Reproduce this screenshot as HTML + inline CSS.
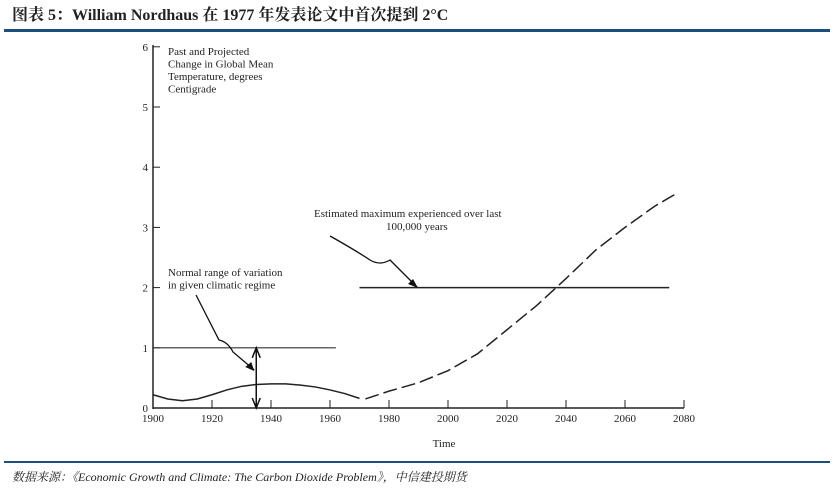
<!DOCTYPE html>
<html><head><meta charset="utf-8"><style>
body{margin:0;background:#fff;width:834px;height:492px;overflow:hidden;font-family:"Liberation Serif","Noto Serif CJK SC",serif}
</style></head><body>
<svg width="834" height="492" xmlns="http://www.w3.org/2000/svg">
<text x="12" y="20" font-size="16" font-weight="bold" fill="#222" font-family="Liberation Serif, Noto Serif CJK SC, serif">图表 5：William Nordhaus 在 1977 年发表论文中首次提到 2°C</text>
<rect x="4" y="29" width="826" height="3" fill="#1d4f7c"/>
<g id="chart" font-family="Liberation Serif, serif" fill="#222"></g>
<rect x="4" y="461" width="826" height="2" fill="#1d4f7c"/>
<text x="12" y="481" font-size="12" font-style="italic" fill="#222" font-family="Liberation Serif, Noto Serif CJK SC, serif">数据来源：《Economic Growth and Climate: The Carbon Dioxide Problem》，中信建投期货</text>
</svg>
<script>
const xTicks=[1900,1920,1940,1960,1980,2000,2020,2040,2060,2080];
const yTicks=[0,1,2,3,4,5,6];
const pastYears=[1900,1905,1910,1915,1920,1925,1930,1935,1940,1945,1950,1955,1960,1965,1970];
const pastTemp=[0.22,0.15,0.12,0.15,0.22,0.30,0.36,0.39,0.40,0.40,0.38,0.35,0.30,0.24,0.16];
const projYears=[1972,1980,1990,2000,2010,2020,2030,2040,2050,2060,2070,2078];
const projTemp=[0.15,0.28,0.42,0.62,0.9,1.3,1.7,2.15,2.62,3.0,3.35,3.58];
const ns="http://www.w3.org/2000/svg";
const g=document.getElementById('chart');
const X=y=>153+(y-1900)*2.95;
const Y=v=>408-v*60.2;
function el(t,a){const e=document.createElementNS(ns,t);for(const k in a)e.setAttribute(k,a[k]);g.appendChild(e);return e;}
let e;
e=el('line',{x1:153,y1:45,x2:153,y2:409,stroke:'#222','stroke-width':1.5});


e=el('line',{x1:153,y1:408,x2:X(2080),y2:408,stroke:'#222','stroke-width':1.5});


xTicks.forEach(t=>{
 e=el('line',{x1:X(t),y1:408,x2:X(t),y2:400,stroke:'#222'});
 
 
 e=el('text',{x:X(t),y:422,'font-size':11,'text-anchor':'middle'});e.textContent=t;
 
 
});
yTicks.forEach(t=>{
 e=el('line',{x1:153,y1:Y(t),x2:160,y2:Y(t),stroke:'#222'});
 
 
 e=el('text',{x:148,y:Y(t)+4,'font-size':11,'text-anchor':'end'});e.textContent=t;
 
 
});
e=el('text',{x:444,y:447,'font-size':11,'text-anchor':'middle'});e.textContent='Time';


['Past and Projected','Change in Global Mean','Temperature, degrees','Centigrade'].forEach((s,i)=>{
 e=el('text',{x:168,y:55+i*12.5,'font-size':11});e.textContent=s;
 
 
});
e=el('path',{d:pastYears.map((y,i)=>(i?'L':'M')+X(y)+' '+Y(pastTemp[i])).join(' '),fill:'none',stroke:'#222','stroke-width':1.5});


e=el('path',{d:projYears.map((y,i)=>(i?'L':'M')+X(y)+' '+Y(projTemp[i])).join(' '),fill:'none',stroke:'#222','stroke-width':1.5,'stroke-dasharray':'14 5'});


e=el('line',{x1:153,y1:Y(1),x2:X(1962),y2:Y(1),stroke:'#333','stroke-width':1.2});


e=el('line',{x1:X(1970),y1:Y(2),x2:X(2075),y2:Y(2),stroke:'#222','stroke-width':1.5});


const ax=X(1935);
e=el('path',{d:`M${ax} ${Y(0)} L${ax} ${Y(1)} M${ax-4} ${Y(0)-10} L${ax} ${Y(0)} L${ax+4} ${Y(0)-10} M${ax-4} ${Y(1)+10} L${ax} ${Y(1)} L${ax+4} ${Y(1)+10}`,fill:'none',stroke:'#111','stroke-width':1.5});


e=el('path',{d:`M196 295 L219 340 Q228 342 233 352 L${ax-2} 370`,fill:'none',stroke:'#111','stroke-width':1.3});


e=el('path',{d:`M${ax-2} 371 L${ax-11} 367 L${ax-5} 362 Z`,fill:'#111'});


['Normal range of variation','in given climatic regime'].forEach((s,i)=>{
 e=el('text',{x:168,y:276+i*12.5,'font-size':11});e.textContent=s;
 
 
});
e=el('path',{d:'M330 236 Q355 250 370 260 Q380 266 390 260 L417 287',fill:'none',stroke:'#111','stroke-width':1.3});


e=el('path',{d:'M418 288 L408 284 L413 279 Z',fill:'#111'});


e=el('text',{x:314,y:217,'font-size':11});e.textContent='Estimated maximum experienced over last';


e=el('text',{x:386,y:230,'font-size':11});e.textContent='100,000 years';


</script>
</body></html>
